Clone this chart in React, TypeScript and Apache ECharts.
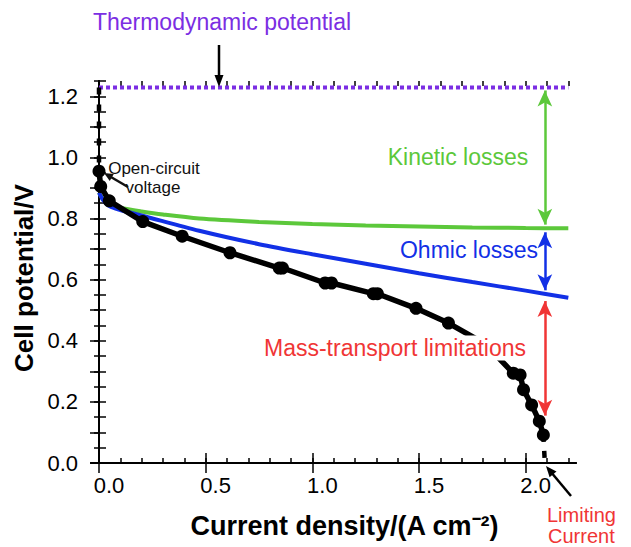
import React, { useEffect, useRef } from "react";
import * as echarts from "echarts";

// ---- tick values ----
const xTickMajor = [0, 0.5, 1.0, 1.5, 2.0];
const xTickMinor = [0, 0.1, 0.2, 0.3, 0.4, 0.5, 0.6, 0.7, 0.8, 0.9, 1.0, 1.1, 1.2, 1.3, 1.4, 1.5, 1.6, 1.7, 1.8, 1.9, 2.0, 2.1, 2.2];
const yTickLabels = [0, 0.2, 0.4, 0.6, 0.8, 1.0, 1.2];
const yTickMajor = [0, 0.1, 0.2, 0.3, 0.4, 0.5, 0.6, 0.7, 0.8, 0.9, 1.0, 1.1, 1.2];
const yTickMinor = [0, 0.05, 0.1, 0.15, 0.2, 0.25, 0.3, 0.35, 0.4, 0.45, 0.5, 0.55, 0.6, 0.65, 0.7, 0.75, 0.8, 0.85, 0.9, 0.95, 1.0, 1.05, 1.1, 1.15, 1.2, 1.25];

// ---- measured polarization curve ----
const measuredCurrent = [0, 0.008, 0.048, 0.205, 0.39, 0.614, 0.845, 0.86, 1.06, 1.09, 1.286, 1.305, 1.486, 1.638, 1.81, 1.942, 1.974, 1.99, 2.028, 2.064, 2.083];
const measuredPotential = [0.955, 0.905, 0.858, 0.79, 0.742, 0.688, 0.638, 0.638, 0.589, 0.589, 0.554, 0.554, 0.506, 0.458, 0.39, 0.294, 0.288, 0.24, 0.19, 0.137, 0.092];

// ---- kinetic-loss curve ----
const kineticCurrent = [0, 0.02, 0.05, 0.1, 0.2, 0.3, 0.47, 0.75, 1.0, 1.25, 1.5, 1.75, 2.0, 2.2];
const kineticPotential = [0.885, 0.862, 0.845, 0.835, 0.823, 0.813, 0.8, 0.789, 0.782, 0.777, 0.774, 0.771, 0.769, 0.768];

// ---- ohmic-loss curve ----
const ohmicCurrent = [0, 0.02, 0.05, 0.1, 0.2, 0.47, 0.75, 1.0, 1.25, 1.5, 1.75, 2.0, 2.2];
const ohmicPotential = [0.885, 0.86, 0.84, 0.828, 0.81, 0.76, 0.716, 0.683, 0.652, 0.621, 0.592, 0.564, 0.541];

// ---- reference levels ----
const thermoPotential = 1.229;
const thermoRange = [0, 2.2];
const ocvPotential = 0.955;
const limitingCurrent = 2.09;
const kineticLossBottom = 0.77;
const ohmicLossBottom = 0.56;
const massLossBottom = 0.155;

const PURPLE = "#7b2ee3";
const GREEN = "#5cc83b";
const BLUE = "#1230e6";
const RED = "#f03535";
const FONT = "Liberation Sans";

const zip = (a: number[], b: number[]) => a.map((v, i) => [v, b[i]]);

// arrow (shaft + filled head) in pixel space, pointing from tail to tip
function arrow(tx: number, ty: number, hx: number, hy: number, color: string, headLen = 11, headHalf = 4.5, width = 2.5) {
  const dx = hx - tx;
  const dy = hy - ty;
  const L = Math.sqrt(dx * dx + dy * dy);
  const ux = dx / L;
  const uy = dy / L;
  const bx = hx - ux * headLen;
  const by = hy - uy * headLen;
  const px = -uy * headHalf;
  const py = ux * headHalf;
  return [
    { type: "line", z: 100, shape: { x1: tx, y1: ty, x2: bx + ux * 1, y2: by + uy * 1 }, style: { stroke: color, lineWidth: width } },
    {
      type: "polygon",
      z: 100,
      shape: { points: [[hx, hy], [bx + px, by + py], [bx - px, by - py]] },
      style: { fill: color },
    },
  ];
}

export default function App() {
  const ref = useRef<HTMLDivElement>(null);
  useEffect(() => {
    if (!ref.current) return;
    const chart = echarts.init(ref.current, null, { renderer: "svg" });
    const xMin = -0.0375;
    const xMax = 2.236;
    const yMin = 0;
    const yMax = 1.25;

    const frameLine = { show: true, lineStyle: { color: "#000", width: 2 } };
    const mkX = (pos: string, ticks: number[], len: number, labels: boolean, line: boolean, extra: any = {}) => ({
      type: "value",
      position: pos,
      min: xMin,
      max: xMax,
      splitLine: { show: false },
      axisLine: line ? frameLine : { show: false },
      axisTick: { show: true, inside: true, length: len, customValues: ticks, lineStyle: { color: "#000", width: 1.5 } },
      axisLabel: labels
        ? {
            show: true,
            customValues: xTickMajor,
            fontSize: 22,
            color: "#000",
            fontFamily: FONT,
            margin: 11,
            padding: [0, 0, 0, 20],
            formatter: (v: number) => v.toFixed(1),
          }
        : { show: false },
      ...extra,
    });
    const mkY = (pos: string, ticks: number[], len: number, labels: boolean, line: boolean, extra: any = {}) => ({
      type: "value",
      position: pos,
      min: yMin,
      max: yMax,
      splitLine: { show: false },
      axisLine: line ? frameLine : { show: false },
      axisTick: { show: true, inside: true, length: len, customValues: ticks, lineStyle: { color: "#000", width: 1.5 } },
      axisLabel: labels
        ? {
            show: true,
            customValues: yTickLabels,
            fontSize: 22,
            color: "#000",
            fontFamily: FONT,
            margin: 13,
            formatter: (v: number) => v.toFixed(1),
          }
        : { show: false },
      ...extra,
    });

    const pair = (y1: number, y2: number, color: string) => [
      { coord: [limitingCurrent, y1], symbol: "arrow", lineStyle: { color, width: 2.5, type: "solid" }, itemStyle: { color } },
      { coord: [limitingCurrent, y2], symbol: "arrow", lineStyle: { color, width: 2.5, type: "solid" }, itemStyle: { color } },
    ];

    const option: any = {
      animation: false,
      textStyle: { fontFamily: FONT },
      grid: { left: 91, right: 55, top: 81, bottom: 84 },
      xAxis: [
        mkX("bottom", xTickMajor, 10, true, true, {
          name: "Current density/(A cm\u207B\u00B2)",
          nameLocation: "middle",
          nameGap: 49,
          nameTextStyle: { fontSize: 27, fontWeight: "bold", color: "#000", fontFamily: FONT, padding: [0, 0, 0, 22] },
        }),
        mkX("bottom", xTickMinor, 5, false, false),
        mkX("top", xTickMajor, 10, false, true),
        mkX("top", xTickMinor, 5, false, false),
      ],
      yAxis: [
        mkY("left", yTickMinor, 7, true, true, {
          name: "Cell potential/V",
          nameLocation: "middle",
          nameGap: 53,
          nameTextStyle: { fontSize: 26, fontWeight: "bold", color: "#000", fontFamily: FONT, padding: [0, 12, 0, 0] },
        }),
        mkY("right", yTickMajor, 9, false, true),
        mkY("right", yTickMinor, 5, false, false),
      ],
      series: [
        {
          name: "Thermodynamic potential",
          type: "line",
          data: thermoRange.map((x) => [x, thermoPotential]),
          symbol: "none",
          clip: false,
          lineStyle: { color: PURPLE, width: 4, type: [4, 3] },
          z: 3,
          markLine: {
            silent: true,
            symbolSize: [11, 16],
            label: { show: false },
            emphasis: { disabled: true },
            data: [
              pair(thermoPotential - 0.01, kineticLossBottom + 0.01, GREEN),
              pair(kineticLossBottom - 0.015, ohmicLossBottom + 0.005, BLUE),
              pair(ohmicLossBottom - 0.03, massLossBottom, RED),
            ],
          },
        },
        {
          name: "OCV guide",
          type: "line",
          data: [
            [0, thermoPotential],
            [0, ocvPotential],
          ],
          symbol: "none",
          lineStyle: { color: "#000", width: 4.5, type: [7, 10] },
          z: 3,
        },
        {
          name: "Kinetic",
          type: "line",
          data: zip(kineticCurrent, kineticPotential),
          symbol: "none",
          smooth: 0.3,
          lineStyle: { color: GREEN, width: 4 },
          z: 3,
        },
        {
          name: "Ohmic",
          type: "line",
          data: zip(ohmicCurrent, ohmicPotential),
          symbol: "none",
          smooth: 0.3,
          lineStyle: { color: BLUE, width: 4 },
          z: 4,
        },
        {
          name: "Limiting guide",
          type: "line",
          data: [
            [measuredCurrent[measuredCurrent.length - 1], measuredPotential[measuredPotential.length - 1]],
            [limitingCurrent, 0],
          ],
          symbol: "none",
          lineStyle: { color: "#000", width: 4.5, type: [7, 9] },
          z: 3,
        },
        {
          name: "Measured",
          type: "line",
          data: zip(measuredCurrent, measuredPotential),
          symbol: "circle",
          symbolSize: 13,
          itemStyle: { color: "#000" },
          lineStyle: { color: "#000", width: 5.5 },
          z: 5,
        },
      ],
      graphic: [
        {
          type: "text",
          x: 222,
          y: 22,
          z: 100,
          style: { text: "Thermodynamic potential", fill: PURPLE, fontSize: 23, fontFamily: FONT, align: "center", verticalAlign: "middle" },
        },
        ...arrow(219, 45, 219, 87, "#000", 12, 4.5, 2.5),
        {
          type: "text",
          x: 458,
          y: 157,
          z: 100,
          style: { text: "Kinetic losses", fill: GREEN, fontSize: 23, fontFamily: FONT, align: "center", verticalAlign: "middle" },
        },
        {
          type: "text",
          x: 469,
          y: 250,
          z: 100,
          style: { text: "Ohmic losses", fill: BLUE, fontSize: 23, fontFamily: FONT, align: "center", verticalAlign: "middle" },
        },
        {
          type: "text",
          x: 395,
          y: 348,
          z: 100,
          style: {
            text: "Mass-transport limitations",
            fill: RED,
            fontSize: 23,
            fontFamily: FONT,
            align: "center",
            verticalAlign: "middle",
            backgroundColor: "#fff",
            padding: [1, 2],
          },
        },
        {
          type: "text",
          x: 154,
          y: 168,
          z: 100,
          style: { text: "Open-circuit", fill: "#111", fontSize: 17, fontFamily: FONT, align: "center", verticalAlign: "middle" },
        },
        {
          type: "text",
          x: 153,
          y: 187,
          z: 100,
          style: { text: "voltage", fill: "#111", fontSize: 17, fontFamily: FONT, align: "center", verticalAlign: "middle" },
        },
        ...arrow(128, 187, 104, 173, "#111", 9, 4, 2.5),
        {
          type: "text",
          x: 547,
          y: 515,
          z: 100,
          style: { text: "Limiting", fill: RED, fontSize: 20, fontFamily: FONT, align: "left", verticalAlign: "middle" },
        },
        {
          type: "text",
          x: 548,
          y: 536,
          z: 100,
          style: { text: "Current", fill: RED, fontSize: 20, fontFamily: FONT, align: "left", verticalAlign: "middle" },
        },
        ...arrow(571, 496, 546, 466, "#000", 11, 4.5, 2.5),
      ],
    };
    chart.setOption(option);
    return () => chart.dispose();
  }, []);
  return <div ref={ref} style={{ position: "fixed", left: 0, top: 0, width: 631, height: 547, background: "#fff" }} />;
}
